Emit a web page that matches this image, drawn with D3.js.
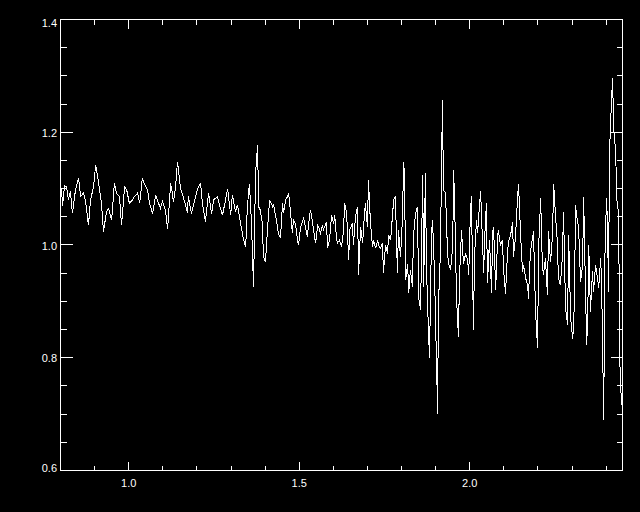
<!DOCTYPE html>
<html>
<head>
<meta charset="utf-8">
<script src="https://cdn.jsdelivr.net/npm/d3@7/dist/d3.min.js"></script>
<style>
  body { margin: 0; background: #000; }
  svg { display: block; }
  text { font-family: "Liberation Sans", Arial, sans-serif; font-size: 11px; fill: #fff; }
</style>
</head>
<body>
<div id="chart-area"></div>
<script>
// wavelength (x) and flux ratio (y)
const wave = [
  0.800, 0.803, 0.806, 0.812, 0.818, 0.823, 0.829, 0.835, 0.844, 0.853,
  0.859, 0.867, 0.873, 0.882, 0.888, 0.897, 0.903, 0.911, 0.920, 0.926,
  0.935, 0.941, 0.950, 0.958, 0.964, 0.973, 0.979, 0.988, 0.994, 1.002,
  1.011, 1.017, 1.026, 1.032, 1.040, 1.046, 1.055, 1.061, 1.070, 1.079,
  1.084, 1.093, 1.099, 1.108, 1.114, 1.123, 1.128, 1.131, 1.137, 1.143,
  1.152, 1.161, 1.167, 1.172, 1.175, 1.184, 1.190, 1.202, 1.211, 1.216,
  1.225, 1.234, 1.243, 1.249, 1.260, 1.266, 1.275, 1.284, 1.290, 1.299,
  1.304, 1.313, 1.319, 1.328, 1.337, 1.343, 1.348, 1.354, 1.360, 1.366,
  1.372, 1.378, 1.381, 1.386, 1.392, 1.395, 1.401, 1.407, 1.413, 1.422,
  1.425, 1.433, 1.439, 1.445, 1.451, 1.454, 1.460, 1.466, 1.469, 1.474,
  1.480, 1.483, 1.489, 1.495, 1.498, 1.504, 1.513, 1.518, 1.524, 1.527,
  1.533, 1.539, 1.542, 1.548, 1.554, 1.557, 1.562, 1.568, 1.571, 1.580,
  1.583, 1.589, 1.595, 1.601, 1.604, 1.609, 1.612, 1.618, 1.624, 1.630,
  1.633, 1.639, 1.645, 1.648, 1.656, 1.659, 1.665, 1.671, 1.674, 1.680,
  1.686, 1.689, 1.694, 1.700, 1.703, 1.709, 1.715, 1.718, 1.724, 1.730,
  1.733, 1.738, 1.744, 1.747, 1.753, 1.759, 1.762, 1.768, 1.777, 1.782,
  1.788, 1.791, 1.797, 1.803, 1.806, 1.809, 1.812, 1.818, 1.821, 1.826,
  1.832, 1.835, 1.841, 1.847, 1.850, 1.856, 1.862, 1.865, 1.870, 1.873,
  1.876, 1.882, 1.888, 1.891, 1.897, 1.900, 1.906, 1.908, 1.914, 1.917,
  1.920, 1.923, 1.929, 1.935, 1.938, 1.944, 1.950, 1.953, 1.958, 1.961,
  1.967, 1.970, 1.976, 1.979, 1.982, 1.988, 1.994, 1.997, 2.002, 2.005,
  2.011, 2.014, 2.020, 2.023, 2.029, 2.032, 2.035, 2.041, 2.043, 2.049,
  2.052, 2.058, 2.064, 2.067, 2.070, 2.076, 2.082, 2.084, 2.090, 2.096,
  2.099, 2.105, 2.111, 2.114, 2.120, 2.126, 2.128, 2.134, 2.140, 2.143,
  2.146, 2.152, 2.155, 2.158, 2.164, 2.170, 2.172, 2.178, 2.184, 2.187,
  2.193, 2.199, 2.202, 2.208, 2.213, 2.216, 2.222, 2.228, 2.231, 2.237,
  2.243, 2.246, 2.252, 2.257, 2.260, 2.266, 2.272, 2.275, 2.281, 2.287,
  2.290, 2.296, 2.302, 2.305, 2.308, 2.310, 2.316, 2.319, 2.325, 2.331,
  2.334, 2.340, 2.343, 2.346, 2.349, 2.354, 2.360, 2.363, 2.369, 2.375,
  2.378, 2.384, 2.387, 2.393, 2.396, 2.401, 2.404, 2.407, 2.410, 2.416,
  2.419, 2.422, 2.428, 2.431, 2.434, 2.437, 2.439, 2.445
];

const flux = [
  1.085, 1.100, 1.070, 1.105, 1.103, 1.080, 1.095, 1.056, 1.098, 1.118,
  1.086, 1.092, 1.080, 1.035, 1.080, 1.103, 1.142, 1.113, 1.074, 1.024,
  1.059, 1.065, 1.044, 1.109, 1.092, 1.086, 1.036, 1.103, 1.098, 1.074,
  1.080, 1.086, 1.092, 1.074, 1.118, 1.109, 1.098, 1.074, 1.056, 1.089,
  1.080, 1.065, 1.077, 1.062, 1.028, 1.109, 1.092, 1.077, 1.100, 1.148,
  1.100, 1.083, 1.070, 1.057, 1.086, 1.056, 1.071, 1.100, 1.109, 1.074,
  1.041, 1.092, 1.056, 1.080, 1.086, 1.071, 1.053, 1.080, 1.100, 1.053,
  1.089, 1.059, 1.071, 1.038, 1.009, 0.997, 1.068, 1.109, 1.038, 0.926,
  1.127, 1.177, 1.068, 1.062, 1.038, 0.979, 0.970, 1.027, 1.080, 1.068,
  1.071, 1.044, 1.021, 1.012, 1.074, 1.056, 1.080, 1.086, 1.092, 1.062,
  1.021, 1.044, 1.038, 1.009, 1.000, 1.032, 1.047, 1.032, 1.015, 1.035,
  1.062, 1.041, 1.027, 1.003, 1.035, 1.032, 1.021, 1.035, 1.027, 1.041,
  0.994, 1.009, 1.053, 1.038, 1.053, 1.015, 1.003, 1.009, 0.997, 1.024,
  1.075, 1.056, 0.973, 1.027, 1.038, 1.000, 1.050, 1.068, 0.947, 1.032,
  1.003, 1.035, 1.074, 1.032, 1.115, 1.038, 0.997, 1.009, 0.994, 1.009,
  1.000, 0.994, 1.003, 0.950, 1.000, 0.985, 1.018, 1.009, 1.080, 1.086,
  0.950, 1.027, 0.979, 1.050, 1.148, 1.121, 0.938, 0.967, 0.914, 0.956,
  0.926, 1.015, 1.056, 1.068, 0.908, 0.885, 1.124, 0.926, 1.127, 0.967,
  0.902, 0.799, 1.021, 1.044, 0.944, 0.861, 0.701, 0.890, 0.985, 1.121,
  1.257, 1.098, 1.092, 0.985, 0.967, 0.956, 0.997, 1.133, 1.015, 0.908,
  0.837, 0.944, 1.027, 0.991, 0.967, 0.985, 0.973, 0.947, 1.056, 1.086,
  0.849, 0.979, 1.044, 1.021, 1.074, 1.095, 1.044, 0.950, 1.003, 1.074,
  0.932, 1.009, 0.914, 1.021, 1.032, 0.920, 1.015, 1.027, 1.000, 1.009,
  0.959, 0.914, 0.988, 1.006, 1.018, 1.041, 0.979, 1.012, 1.080, 1.109,
  1.065, 0.982, 0.953, 0.964, 0.941, 0.929, 0.905, 0.988, 1.012, 1.024,
  0.882, 0.817, 0.994, 1.083, 0.964, 0.947, 0.976, 0.911, 1.024, 0.970,
  1.018, 1.109, 1.047, 1.006, 0.941, 0.929, 0.982, 1.059, 0.888, 0.858,
  1.018, 0.870, 0.834, 0.858, 0.941, 1.071, 1.041, 1.035, 0.935, 0.964,
  1.086, 0.905, 0.823, 0.870, 1.000, 0.882, 0.953, 0.917, 0.964, 0.941,
  0.923, 0.976, 0.923, 0.690, 0.970, 1.083, 1.041, 0.917, 1.166, 1.260,
  1.296, 1.207, 1.166, 1.083, 1.065, 1.059, 0.811, 0.716
];

const xMajor = [1.0, 1.5, 2.0];
const yMajor = [0.6, 0.8, 1.0, 1.2, 1.4];

const W = 640, H = 512;
const LEFT = 60.5, RIGHT = 622.5, TOP = 19.5, BOTTOM = 470.5;

const x = d3.scaleLinear().domain([0.8, 2.448]).range([LEFT, RIGHT]);
const y = d3.scaleLinear().domain([0.6, 1.4]).range([BOTTOM, TOP]);

const xMinor = d3.range(8, 25).map(d => d / 10).filter(d => xMajor.indexOf(d) < 0);
const yMinor = d3.range(12, 29).map(d => d / 20).filter(d => yMajor.indexOf(d) < 0);

const svg = d3.select('#chart-area').append('svg')
  .attr('width', W)
  .attr('height', H)
  .style('background', '#000');

svg.append('defs').append('clipPath').attr('id', 'plot-clip')
  .append('rect')
  .attr('x', LEFT).attr('y', TOP)
  .attr('width', RIGHT - LEFT).attr('height', BOTTOM - TOP);

// spectrum
const points = wave.map((w, i) => [w, flux[i]]);
svg.append('path')
  .datum(points)
  .attr('clip-path', 'url(#plot-clip)')
  .attr('fill', 'none')
  .attr('stroke', '#fff')
  .attr('stroke-width', 1)
  .attr('shape-rendering', 'crispEdges')
  .attr('d', d3.line().x(d => x(d[0])).y(d => y(d[1])));

// frame
svg.append('rect')
  .attr('x', LEFT).attr('y', TOP)
  .attr('width', RIGHT - LEFT).attr('height', BOTTOM - TOP)
  .attr('fill', 'none')
  .attr('stroke', '#fff')
  .attr('shape-rendering', 'crispEdges');

const ticks = svg.append('g')
  .attr('stroke', '#fff')
  .attr('shape-rendering', 'crispEdges');

function xTicks(vals, len) {
  vals.forEach(v => {
    const px = Math.round(x(v) - 0.5) + 0.5;
    ticks.append('line').attr('x1', px).attr('x2', px).attr('y1', BOTTOM).attr('y2', BOTTOM - len);
    ticks.append('line').attr('x1', px).attr('x2', px).attr('y1', TOP).attr('y2', TOP + len);
  });
}
function yTicks(vals, len) {
  vals.forEach(v => {
    const py = Math.round(y(v) - 0.5) + 0.5;
    ticks.append('line').attr('x1', LEFT).attr('x2', LEFT + len).attr('y1', py).attr('y2', py);
    ticks.append('line').attr('x1', RIGHT).attr('x2', RIGHT - len).attr('y1', py).attr('y2', py);
  });
}
xTicks(xMajor, 9);
xTicks(xMinor, 5);
yTicks(yMajor, 12);
yTicks(yMinor, 6);

const fmt = d3.format('.1f');

svg.selectAll('.xlab').data(xMajor).enter().append('text')
  .attr('class', 'xlab')
  .attr('x', d => x(d))
  .attr('y', 487)
  .attr('text-anchor', 'middle')
  .text(fmt);

svg.selectAll('.ylab').data(yMajor).enter().append('text')
  .attr('class', 'ylab')
  .attr('x', 57)
  .attr('y', d => Math.min(Math.max(y(d) + 4.5, 27), 472))
  .attr('text-anchor', 'end')
  .text(fmt);
</script>
</body>
</html>
